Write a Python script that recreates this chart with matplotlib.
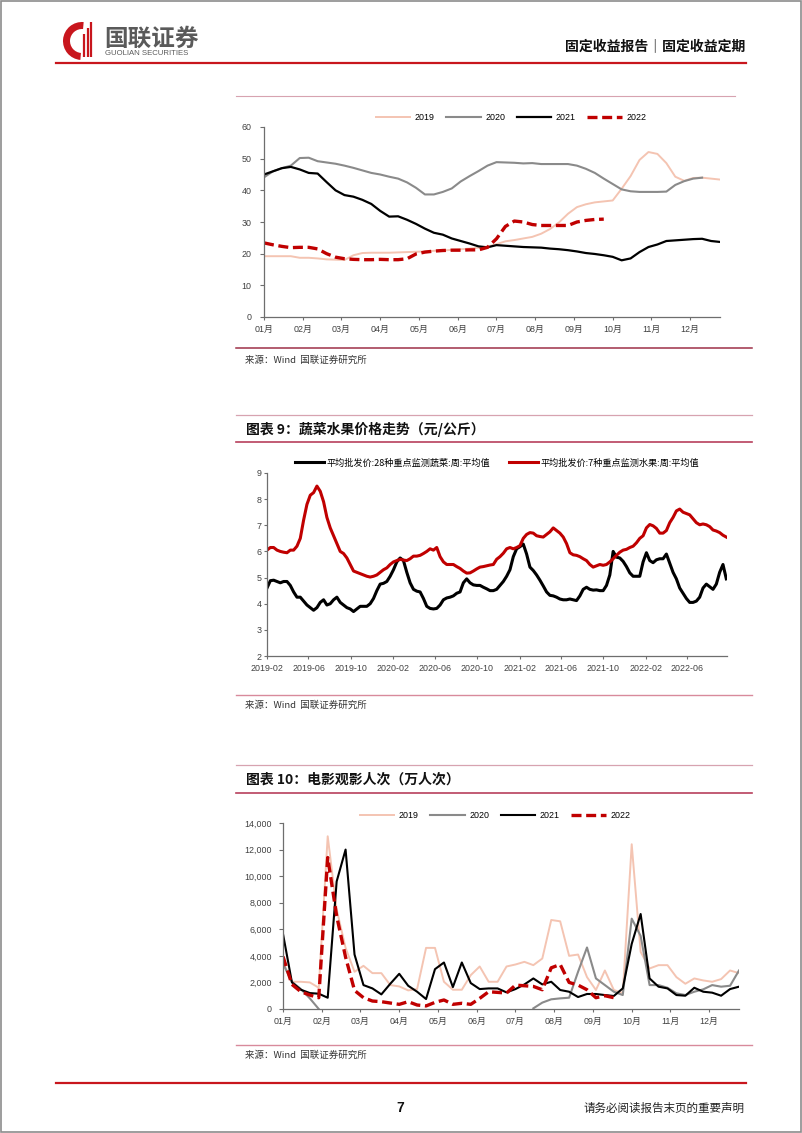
import numpy as np
import pandas as pd
import matplotlib
matplotlib.use('Agg')
import matplotlib.pyplot as plt
import matplotlib.dates as mdates
from matplotlib.patches import Wedge, Rectangle
from matplotlib.ticker import FuncFormatter

plt.rcParams['font.family'] = ['Liberation Sans', 'Noto Sans CJK SC', 'DejaVu Sans']
CJK = ['Noto Sans CJK SC', 'DejaVu Sans']

# ---------------- data ----------------
months = ['01月', '02月', '03月', '04月', '05月', '06月',
          '07月', '08月', '09月', '10月', '11月', '12月']
nan = np.nan

# chart 1: weekly values (52 weeks)
pork_2019 = [19.2, 19.2, 19.2, 19.2, 18.7, 18.7, 18.5, 18.2, 18.1, 18.0,
             19.5, 20.2, 20.3, 20.3, 20.3, 20.4, 20.5, 20.6, 20.7, 20.9,
             21.0, 21.2, 21.4, 21.6, 21.9, 22.2, 23.0, 23.9, 24.3, 24.8,
             25.3, 26.3, 27.8, 29.9, 32.6, 34.7, 35.6, 36.2, 36.5, 36.8,
             40.5, 44.5, 49.6, 52.1, 51.5, 48.6, 44.3, 43.0, 43.9, 44.0,
             43.7, 43.4]
pork_2020 = [44.1, 46.0, 47.0, 47.8, 50.2, 50.3, 49.2, 48.8, 48.4, 47.8,
             47.1, 46.3, 45.5, 45.0, 44.3, 43.7, 42.5, 40.8, 38.7, 38.7,
             39.5, 40.6, 42.8, 44.5, 46.1, 47.8, 48.9, 48.8, 48.7, 48.5,
             48.6, 48.3, 48.3, 48.3, 48.3, 47.8, 46.8, 45.5, 43.7, 42.0,
             40.3, 39.7, 39.5, 39.5, 39.5, 39.6, 41.7, 42.9, 43.7, 44.0,
             nan, nan]
pork_2021 = [45.0, 46.0, 47.0, 47.4, 46.6, 45.5, 45.3, 42.6, 40.0, 38.5,
             38.0, 37.0, 35.7, 33.5, 31.7, 31.8, 30.7, 29.4, 27.9, 26.6,
             26.0, 24.8, 24.0, 23.2, 22.3, 22.0, 22.7, 22.5, 22.3, 22.1,
             22.0, 21.9, 21.6, 21.4, 21.1, 20.7, 20.2, 19.9, 19.5, 19.0,
             17.9, 18.5, 20.5, 22.1, 22.9, 24.0, 24.2, 24.4, 24.6, 24.7,
             24.0, 23.7]
pork_2022 = [23.4, 22.8, 22.3, 21.9, 22.0, 22.0, 21.5, 20.0, 18.9, 18.4,
             18.2, 18.1, 18.1, 18.2, 18.1, 18.1, 18.4, 19.9, 20.5, 20.8,
             21.0, 21.1, 21.1, 21.2, 21.2, 22.0, 24.7, 28.6, 30.3, 30.0,
             29.2, 28.9, 28.9, 28.9, 28.9, 30.0, 30.5, 30.8, 30.9, nan,
             nan, nan, nan, nan, nan, nan, nan, nan, nan, nan, nan, nan]

# chart 2: vegetable / fruit wholesale prices
veg_label = '平均批发价:28种重点监测蔬菜:周:平均值'
fruit_label = '平均批发价:7种重点监测水果:周:平均值'
veg = [4.6, 4.88, 4.9, 4.85, 4.8, 4.85, 4.85, 4.7, 4.45, 4.25,
       4.25, 4.1, 3.95, 3.85, 3.75, 3.85, 4.05, 4.15, 3.95, 4.0,
       4.15, 4.25, 4.05, 3.95, 3.85, 3.8, 3.7, 3.8, 3.9, 3.9,
       3.9, 4.0, 4.2, 4.5, 4.75, 4.78, 4.85, 5.05, 5.3, 5.6,
       5.75, 5.65, 5.2, 4.8, 4.55, 4.48, 4.45, 4.2, 3.9, 3.82,
       3.8, 3.82, 3.95, 4.15, 4.22, 4.25, 4.3, 4.4, 4.45, 4.8,
       4.95, 4.8, 4.72, 4.7, 4.7, 4.63, 4.57, 4.5, 4.5, 4.55,
       4.7, 4.85, 5.05, 5.3, 5.8, 6.1, 6.18, 6.28, 5.9, 5.4,
       5.27, 5.1, 4.9, 4.68, 4.45, 4.32, 4.3, 4.25, 4.18, 4.15,
       4.15, 4.18, 4.15, 4.12, 4.3, 4.55, 4.63, 4.55, 4.52, 4.53,
       4.5, 4.5, 4.7, 5.1, 6.0, 5.78, 5.75, 5.62, 5.42, 5.18,
       5.05, 5.05, 5.05, 5.6, 5.95, 5.65, 5.57, 5.68, 5.72, 5.72,
       5.9, 5.55, 5.2, 4.95, 4.6, 4.4, 4.2, 4.05, 4.05, 4.1,
       4.25, 4.6, 4.75, 4.65, 4.55, 4.75, 5.2, 5.5, 4.95]
fruit = [6.05, 6.15, 6.15, 6.05, 6.0, 5.97, 5.95, 6.05, 6.05, 6.2,
         6.5, 7.2, 7.8, 8.15, 8.25, 8.5, 8.3, 7.9, 7.3, 6.9,
         6.6, 6.3, 6.0, 5.92, 5.75, 5.5, 5.25, 5.2, 5.15, 5.1,
         5.05, 5.02, 5.05, 5.1, 5.2, 5.3, 5.37, 5.5, 5.6, 5.65,
         5.7, 5.67, 5.65, 5.72, 5.82, 5.82, 5.85, 5.92, 6.0, 6.1,
         6.05, 6.15, 5.8, 5.6, 5.5, 5.5, 5.5, 5.42, 5.35, 5.25,
         5.17, 5.18, 5.25, 5.33, 5.4, 5.42, 5.45, 5.48, 5.5, 5.7,
         5.8, 5.93, 6.1, 6.15, 6.1, 6.15, 6.22, 6.5, 6.65, 6.72,
         6.7, 6.6, 6.57, 6.55, 6.65, 6.75, 6.9, 6.8, 6.7, 6.55,
         6.3, 5.95, 5.87, 5.85, 5.8, 5.72, 5.65, 5.5, 5.4, 5.45,
         5.5, 5.47, 5.5, 5.6, 5.72, 5.85, 5.97, 6.05, 6.08, 6.15,
         6.2, 6.33, 6.5, 6.6, 6.9, 7.03, 6.98, 6.88, 6.7, 6.7,
         6.8, 7.1, 7.3, 7.55, 7.62, 7.5, 7.45, 7.4, 7.25, 7.1,
         7.02, 7.05, 7.02, 6.95, 6.82, 6.78, 6.72, 6.62, 6.55]
price_start, price_end = '2019-02-01', '2022-09-22'

# chart 3: weekly cinema admissions (万人次)
movie_2019 = [3550, 2050, 2050, 2000, 1600, 13000, 7500, 4600, 2800, 3250,
              2700, 2700, 1800, 1700, 1400, 1500, 4600, 4600, 2050, 1450,
              1450, 2550, 3200, 2050, 2050, 3200, 3350, 3550, 3300, 3800,
              6700, 6600, 4000, 4100, 2400, 1430, 2900, 1430, 1200, 12400,
              4300, 3050, 3300, 3300, 2400, 1900, 2300, 2150, 2050, 2250,
              2900, 2700]
movie_2020 = [3400, 2050, 1500, 800, 0] + [nan] * 23 + \
             [50, 480, 730, 800, 850, 2800, 4630, 2300, 1800, 1300,
              1050, 6800, 5500, 1800, 1800, 1600, 1180, 1050, 1300, 1480,
              1800, 1680, 1750, 2900]
movie_2021 = [5650, 2000, 1450, 1200, 1150, 850, 9600, 12000, 4100, 1800,
              1550, 1100, 1900, 2650, 1750, 1300, 750, 3000, 3500, 1650,
              3500, 1950, 1500, 1550, 1550, 1250, 1500, 1850, 2300, 1850,
              2050, 1430, 1300, 900, 1130, 1130, 1050, 980, 1550, 4900,
              7150, 2300, 1680, 1550, 1050, 1000, 1600, 1300, 1230, 1000,
              1500, 1680]
movie_2022 = [3950, 1850, 1300, 1050, 850, 11400, 7000, 3900, 1400, 850,
              600, 550, 450, 350, 550, 300, 230, 500, 680, 350,
              430, 350, 800, 1300, 1250, 1200, 1800, 1750, 1700, 1450,
              3100, 3350, 2000, 1800, 1450, 850, 1000, 850] + [nan] * 14

years = ['2019', '2020', '2021', '2022']
C19, C20, C21, C22 = '#F4C4B2', '#8A8A8A', '#000000', '#C00000'
DASH = (0, (3, 1.4))

# ---------------- figure ----------------
W, H = 802, 1133
fig = plt.figure(figsize=(W / 100, H / 100), dpi=100)
bg = fig.add_axes([0, 0, 1, 1])
bg.set_xlim(0, W)
bg.set_ylim(H, 0)
bg.axis('off')


def fa(left, top, right, bottom):
    return [left / W, 1 - bottom / H, (right - left) / W, (bottom - top) / H]


def style_axes(ax, ylen=3, ypad=4):
    for s in ['top', 'right']:
        ax.spines[s].set_visible(False)
    for s in ['left', 'bottom']:
        ax.spines[s].set_color('#6E6E6E')
        ax.spines[s].set_linewidth(0.9)
    ax.tick_params(axis='both', labelsize=6.4, colors='#6E6E6E',
                   labelcolor='#404040', width=0.8)
    ax.tick_params(axis='y', length=ylen, pad=ypad)
    ax.tick_params(axis='x', length=2.5, pad=3)
    ax.patch.set_alpha(0)


# page border
bg.add_patch(Rectangle((0.8, 0.8), W - 1.6, H - 1.6, fill=False,
                       ec='#8C8C8C', lw=1.2))

# header
bg.add_patch(Wedge((82, 41), 19, 95, 275, width=7, color='#C8161D', lw=0))
for xb, yt in [(84, 34), (87.5, 28), (91, 22)]:
    bg.plot([xb, xb], [57, yt], color='#C8161D', lw=1.6,
            solid_capstyle='butt')
bg.text(104, 39, '国联证券', fontsize=17, color='#5A5A5A',
        fontweight='bold', va='center', ha='left', family=CJK)
bg.text(105, 53.5, 'GUOLIAN SECURITIES', fontsize=5.6, color='#5A5A5A',
        va='center', ha='left')
bg.text(745, 47, '固定收益报告｜固定收益定期', fontsize=10, color='#111111',
        fontweight='bold', va='center', ha='right', family=CJK)
bg.plot([56, 746], [63, 63], color='#C8161D', lw=1.6)

# section lines / titles / sources
LIGHT, DARK = '#D7A3B0', '#B8405C'
bg.plot([236, 735], [96, 96], color=LIGHT, lw=0.8)
bg.plot([236, 752], [348, 348], color='#9E3048', lw=1.1)
bg.text(245, 360, '来源：Wind  国联证券研究所', fontsize=6.8, va='center',
        color='#333333', family=CJK)

bg.plot([236, 752], [415, 415], color=LIGHT, lw=0.9)
bg.text(246, 429, '图表 9：蔬菜水果价格走势（元/公斤）', fontsize=10,
        fontweight='bold', va='center', color='#111111', family=CJK)
bg.plot([236, 752], [442, 442], color=DARK, lw=1.2)
bg.plot([236, 752], [695, 695], color='#D88A9C', lw=1.0)
bg.text(245, 705, '来源：Wind  国联证券研究所', fontsize=6.8, va='center',
        color='#333333', family=CJK)

bg.plot([236, 752], [765, 765], color=LIGHT, lw=0.9)
bg.text(246, 780, '图表 10：电影观影人次（万人次）', fontsize=10,
        fontweight='bold', va='center', color='#111111', family=CJK)
bg.plot([236, 752], [793, 793], color=DARK, lw=1.2)
bg.plot([236, 752], [1045, 1045], color='#D88A9C', lw=1.0)
bg.text(245, 1055, '来源：Wind  国联证券研究所', fontsize=6.8, va='center',
        color='#333333', family=CJK)

# footer
bg.plot([56, 746], [1083, 1083], color='#C8161D', lw=1.6)
bg.text(400, 1108, '7', fontsize=10, fontweight='bold', ha='center',
        va='center', color='#111111')
bg.text(744, 1108, '请务必阅读报告末页的重要声明', fontsize=8.3, ha='right',
        va='center', color='#222222', family=CJK)

week = np.arange(52)
month_pos = np.arange(12) * 52 / 12

# ---------------- chart 1 ----------------
ax1 = fig.add_axes(fa(264, 127, 720, 317))
ax1.plot(week, pork_2019, color=C19, lw=1.4, label=years[0])
ax1.plot(week, pork_2020, color=C20, lw=1.5, label=years[1])
ax1.plot(week, pork_2021, color=C21, lw=1.6, label=years[2])
ax1.plot(week, pork_2022, color=C22, lw=2.4, ls=DASH, label=years[3])
ax1.set_xlim(0, 51)
ax1.set_ylim(0, 60)
ax1.set_yticks(np.arange(0, 61, 10))
ax1.set_xticks(month_pos)
ax1.set_xticklabels(months)
style_axes(ax1, ylen=3, ypad=6)
ax1.legend(loc='center', bbox_to_anchor=(511 / W, 1 - 118 / H),
           bbox_transform=fig.transFigure, ncol=4, frameon=False,
           fontsize=6.4, handlelength=3.9, handletextpad=0.5,
           columnspacing=1.3)

# ---------------- chart 2 ----------------
ax2 = fig.add_axes(fa(267, 473, 727, 656))
dates = pd.date_range(price_start, price_end, periods=len(veg))
ax2.plot(dates, veg, color='#000000', lw=2.2, label=veg_label)
ax2.plot(dates, fruit, color='#C00000', lw=2.2, label=fruit_label)
ax2.set_xlim(pd.Timestamp('2019-02-01'), pd.Timestamp('2022-09-24'))
ax2.set_ylim(2, 9)
ax2.set_yticks(np.arange(2, 10, 1))
ax2.xaxis.set_major_locator(mdates.MonthLocator(bymonth=(2, 6, 10)))
ax2.xaxis.set_major_formatter(mdates.DateFormatter('%Y-%m'))
style_axes(ax2, ylen=2, ypad=2)
ax2.legend(loc='center', bbox_to_anchor=(497 / W, 1 - 463 / H),
           bbox_transform=fig.transFigure, ncol=2, frameon=False,
           fontsize=6.6, handlelength=3.2, handletextpad=0.25,
           columnspacing=2.1, prop={'family': CJK, 'size': 6.6})

# ---------------- chart 3 ----------------
ax3 = fig.add_axes(fa(283, 823, 739, 1009))
ax3.plot(week, movie_2019, color=C19, lw=1.4, label=years[0])
ax3.plot(week, movie_2020, color=C20, lw=1.5, label=years[1])
ax3.plot(week, movie_2021, color=C21, lw=1.5, label=years[2])
ax3.plot(week, movie_2022, color=C22, lw=2.4, ls=DASH, label=years[3])
ax3.set_xlim(0, 51)
ax3.set_ylim(0, 14000)
ax3.set_yticks(np.arange(0, 14001, 2000))
ax3.yaxis.set_major_formatter(FuncFormatter(lambda v, p: f'{int(v):,}'))
ax3.set_xticks(month_pos)
ax3.set_xticklabels(months)
style_axes(ax3, ylen=3, ypad=5)
ax3.legend(loc='center', bbox_to_anchor=(495 / W, 1 - 816 / H),
           bbox_transform=fig.transFigure, ncol=4, frameon=False,
           fontsize=6.4, handlelength=3.9, handletextpad=0.5,
           columnspacing=1.3)

fig.savefig('out.png', dpi=100)
